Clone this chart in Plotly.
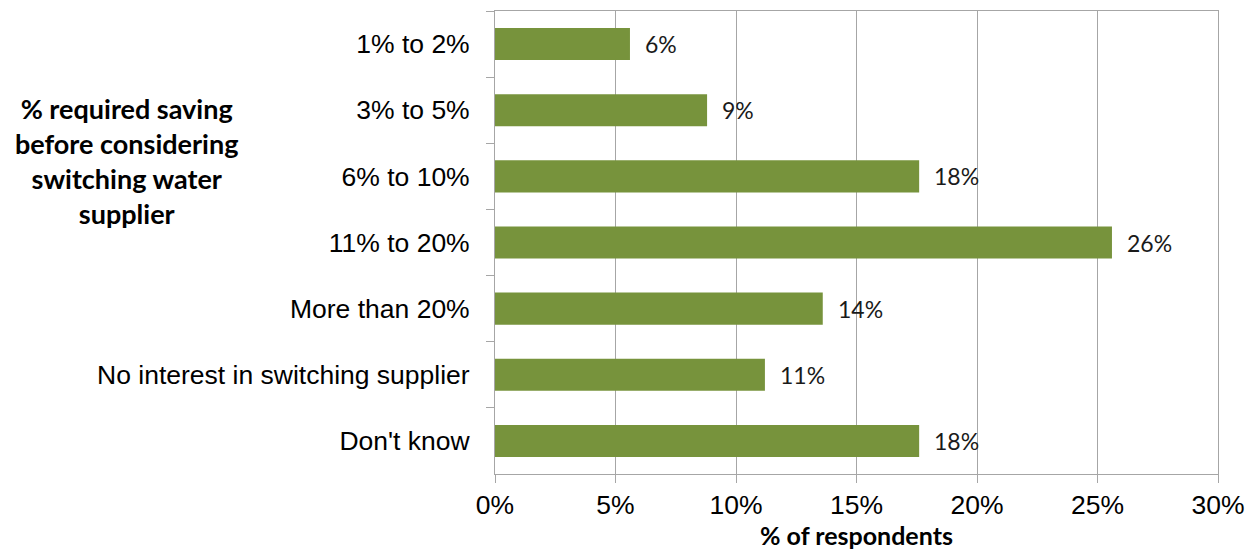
import plotly.graph_objects as go

# Survey responses: required saving before considering a switch of water supplier
categories = [
    "1% to 2%",
    "3% to 5%",
    "6% to 10%",
    "11% to 20%",
    "More than 20%",
    "No interest in switching supplier",
    "Don't know",
]
share_pct = [5.6, 8.8, 17.6, 25.6, 13.6, 11.2, 17.6]
x_ticks = [0, 5, 10, 15, 20, 25, 30]
x_tick_text = [f"{v}%" for v in x_ticks]

BAR_GREEN = "#77933C"
GRID_GREY = "#A6A6A6"
TICK_FONT = dict(family="Liberation Sans, Arial, sans-serif", size=26.5, color="#000000")
LABEL_FONT = dict(family="Lato, Calibri, sans-serif", size=23, color="#1a1a1a")
TITLE_FONT = dict(family="Lato, Calibri, sans-serif", size=27, color="#000000", weight="bold")

# plot-area margins in pixels
M_L, M_R, M_T, M_B = 495, 32, 11, 77
W, H = 1250, 551

fig = go.Figure(
    go.Bar(
        x=share_pct,
        y=categories,
        orientation="h",
        marker=dict(color=BAR_GREEN, line=dict(width=0)),
        width=0.485,
        hoverinfo="skip",
    )
)

# value labels just past the end of each bar
for cat, val in zip(categories, share_pct):
    fig.add_annotation(
        x=val, y=cat, xref="x", yref="y",
        text=f"{round(val)}%",
        showarrow=False, xanchor="left", yanchor="middle",
        xshift=13, font=LABEL_FONT,
    )

# category axis title, set to the left of the tick labels
fig.add_annotation(
    xref="paper", yref="paper",
    x=(126 - M_L) / (W - M_L - M_R),
    y=1 - (161 - M_T) / (H - M_T - M_B),
    text="% required saving<br>before considering<br>switching water<br>supplier",
    showarrow=False, font=TITLE_FONT, align="center",
    xanchor="center", yanchor="middle",
)

fig.update_layout(
    width=W, height=H,
    margin=dict(l=M_L, r=M_R, t=M_T, b=M_B),
    paper_bgcolor="white", plot_bgcolor="white",
    showlegend=False,
    xaxis=dict(
        range=[0, 30], tickvals=x_ticks, ticktext=x_tick_text,
        showgrid=True, gridcolor=GRID_GREY, gridwidth=1,
        showline=True, linecolor=GRID_GREY, linewidth=1, mirror=True,
        ticks="outside", ticklen=8, tickcolor=GRID_GREY,
        tickfont=TICK_FONT, zeroline=False, ticklabelstandoff=-1,
        automargin=False,
        title=dict(text="% of respondents",
                   font=dict(family="Lato, Calibri, sans-serif", size=25, color="#000000", weight="bold"),
                   standoff=4),
    ),
    yaxis=dict(
        categoryorder="array", categoryarray=categories, autorange="reversed",
        showgrid=False, showline=True, linecolor=GRID_GREY, linewidth=1, mirror=True,
        ticks="outside", ticklen=8, tickcolor=GRID_GREY, tickson="boundaries",
        tickfont=TICK_FONT, ticklabelstandoff=19, automargin=False,
    ),
)

fig.write_html("out.html")
